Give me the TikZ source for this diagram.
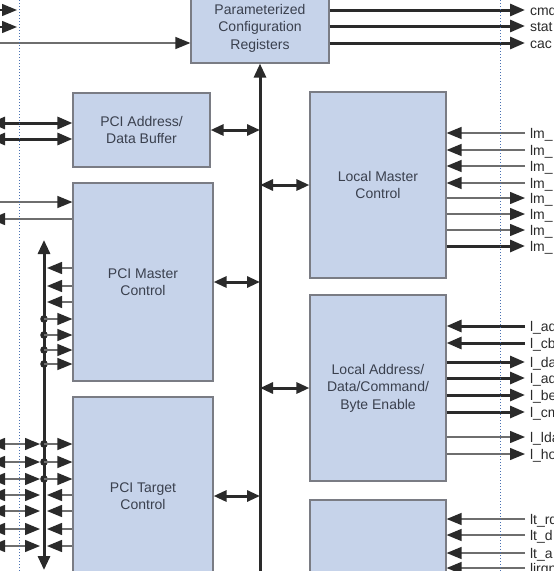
\documentclass[tikz,border=0pt]{standalone}
\usepackage{fontspec}
\setmainfont{Liberation Sans}
\usetikzlibrary{arrows.meta,positioning}

\definecolor{boxfill}{RGB}{198,211,234}
\definecolor{boxline}{RGB}{122,124,132}
\definecolor{boxtext}{RGB}{58,64,78}
\definecolor{wire}{RGB}{42,42,42}
\definecolor{thinwire}{RGB}{110,110,110}
\definecolor{guide}{RGB}{72,112,178}

\begin{document}
\begin{tikzpicture}[x=1pt,y=-1pt]
    \tikzstyle{block}=[rectangle,draw=boxline,fill=boxfill,line width=1.2pt,text=boxtext,align=center,inner sep=0pt,font=\fontsize{14}{17.5}\selectfont]
    \tikzstyle{sig}=[anchor=west,inner xsep=5pt,inner ysep=0pt,outer sep=0pt,text=wire,text height=10pt,text depth=0pt,font=\fontsize{14}{16}\selectfont]

    \tikzstyle{wireln}=[line width=1.4pt,draw=thinwire,>={Triangle[length=15pt,width=12pt,color=wire]}]  % single signal
    \tikzstyle{wirebd}=[line width=3pt,draw=wire,>={Triangle[length=15pt,width=12pt]}]                 % bus signal
    \tikzstyle{bus}=[line width=3pt,draw=wire,>={Triangle[length=14pt,width=12pt]}]
    \tikzstyle{tap}=[line width=3pt,draw=wire,<->,>={Triangle[length=13pt,width=11pt]}]               % block to bus
    \tikzstyle{guideln}=[guide,line width=1pt,dotted]

    \useasboundingbox (0,0) rectangle (554,571);
    \clip (0,0) rectangle (554,571);

    % blocks
    \node[block,minimum width=138pt,minimum height=70pt] (cfg) at (260,28) {Parameterized\\Configuration\\Registers};
    \node[block,minimum width=137pt,minimum height=74pt] (pab) at (141.5,130) {PCI Address/\\Data Buffer};
    \node[block,minimum width=140pt,minimum height=198pt] (pmc) at (143,282) {PCI Master\\Control};
    \node[block,minimum width=140pt,minimum height=198pt] (ptc) at (143,496) {PCI Target\\Control};
    \node[block,minimum width=136pt,minimum height=186pt] (lmc) at (378,185) {Local Master\\Control};
    \node[block,minimum width=136pt,minimum height=186pt] (lad) at (378,388) {Local Address/\\Data/Command/\\Byte Enable};
    \node[block,minimum width=136pt,minimum height=186pt] (ltc) at (378,593) {};

    \coordinate (bus) at (260,590);
    \coordinate (lhs) at (-10,0);
    \coordinate (pbtop) at (44,240);
    \coordinate (pbbot) at (44,570);
    \coordinate (gl) at (19,0);
    \coordinate (gr) at (500,0);

    % internal bus
    \draw[bus,->] (bus) -- (cfg.south);
    \draw[tap] (pab.east) -- (pab.east -| bus);
    \draw[tap] (pmc.east) -- (pmc.east -| bus);
    \draw[tap] (ptc.east) -- (ptc.east -| bus);
    \draw[tap] (lmc.west) -- (lmc.west -| bus);
    \draw[tap] (lad.west) -- (lad.west -| bus);

    % pci side
    \foreach \y in {10,27}
        \draw[wireln,draw=wire,->,shorten >=2pt] (lhs|-0,\y) -- (gl|-0,\y);
    \draw[wireln,->] (lhs|-0,43) -- (cfg.west|-0,43);
    \foreach \y in {123,139}
        \draw[wirebd,<->] (lhs|-0,\y) -- (pab.west|-0,\y);
    \draw[wireln,->] (lhs|-0,202) -- (pmc.west|-0,202);
    \draw[wireln,->] (pmc.west|-0,219) -- (lhs|-0,219);

    \draw[bus,<->] (pbbot) -- (pbtop);
    \foreach \y in {268,286,302}
        \draw[wireln,->,shorten >=3pt] (pmc.west|-0,\y) -- (pbtop|-0,\y);
    \foreach \y in {319,335,350,364} {
        \fill[wire] (pbtop|-0,\y) circle (3.8pt);
        \draw[wireln,->] (pbtop|-0,\y) -- (pmc.west|-0,\y);
    }
    \foreach \y in {444,462,479} {
        \draw[wireln,<->,shorten >=4pt] (lhs|-0,\y) -- (pbtop|-0,\y);
        \fill[wire] (pbtop|-0,\y) circle (3.8pt);
        \draw[wireln,->] (pbtop|-0,\y) -- (ptc.west|-0,\y);
    }
    \foreach \y in {495,511,529,546} {
        \draw[wireln,<->,shorten >=4pt] (lhs|-0,\y) -- (pbtop|-0,\y);
        \draw[wireln,->,shorten >=3pt] (ptc.west|-0,\y) -- (pbtop|-0,\y);
    }

    % local side
    \foreach \y/\t in {10/cmd,26/stat,43/cac} {
        \node[sig] (o\y) at (525,\y) {\t};
        \draw[wirebd,->] (cfg.east|-o\y) -- (o\y);
    }
    \foreach \y in {133,150,166,183} {
        \node[sig] (m\y) at (525,\y) {lm\_};
        \draw[wireln,->] (m\y) -- (lmc.east|-m\y);
    }
    \foreach \y in {198,214,230} {
        \node[sig] (m\y) at (525,\y) {lm\_};
        \draw[wireln,->] (lmc.east|-m\y) -- (m\y);
    }
    \node[sig] (m246) at (525,246) {lm\_};
    \draw[wirebd,->] (lmc.east|-m246) -- (m246);

    \foreach \y/\t in {326/l\_ad,343/l\_cb} {
        \node[sig] (a\y) at (525,\y) {\t};
        \draw[wirebd,->] (a\y) -- (lad.east|-a\y);
    }
    \foreach \y/\t in {362/l\_da,378/l\_ad,395/l\_be,412/l\_cm} {
        \node[sig] (a\y) at (525,\y) {\t};
        \draw[wirebd,->] (lad.east|-a\y) -- (a\y);
    }
    \foreach \y/\t in {437/l\_lda,454/l\_ho} {
        \node[sig] (a\y) at (525,\y) {\t};
        \draw[wireln,->] (lad.east|-a\y) -- (a\y);
    }
    \foreach \y/\t in {519/lt\_rd,535/lt\_d,553/lt\_a,568/lirqn} {
        \node[sig] (t\y) at (525,\y) {\t};
        \draw[wireln,->] (t\y) -- (ltc.east|-t\y);
    }

    % guides
    \draw[guideln] (gl) -- (gl|-0,571);
    \draw[guideln] (gr) -- (gr|-0,571);
\end{tikzpicture}
\end{document}
